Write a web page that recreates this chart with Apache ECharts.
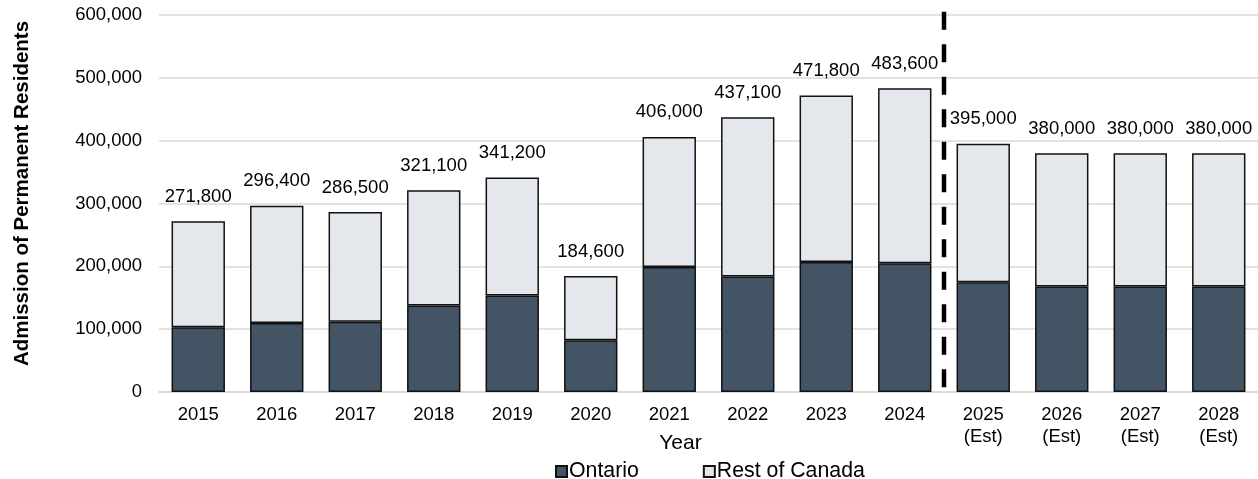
<!DOCTYPE html>
<html>
<head>
<meta charset="utf-8">
<style>
  html, body { margin: 0; padding: 0; background: #fff; }
  #chart { width: 1258px; height: 479px; }
</style>
<script src="https://cdn.jsdelivr.net/npm/echarts@6/dist/echarts.min.js"></script>
</head>
<body>
<div id="chart"></div>
<script>
// Admissions of permanent residents, Ontario vs. rest of Canada
const years = ['2015', '2016', '2017', '2018', '2019', '2020', '2021', '2022', '2023', '2024',
               '2025\n(Est)', '2026\n(Est)', '2027\n(Est)', '2028\n(Est)'];
const totals = [271800, 296400, 286500, 321100, 341200, 184600, 406000, 437100, 471800, 483600,
                395000, 380000, 380000, 380000];
const ontario = [103000, 110000, 112000, 137500, 153500, 82500, 199000, 184000, 207000, 205000,
                 174500, 168000, 168000, 168000];
const yTicks = { min: 0, max: 600000, interval: 100000 };
// Divider between actual and estimated years (category boundary, value range)
const dividerAt = 9.5;
const dividerSpan = [605000, 0];

const restOfCanada = totals.map((t, i) => t - ontario[i]);

const FONT = 'Liberation Sans, Arial, sans-serif';
const fmt = v => v.toLocaleString('en-US');

const chart = echarts.init(document.getElementById('chart'), null, { renderer: 'canvas' });
chart.setOption({
  animation: false,
  textStyle: { fontFamily: FONT, color: '#000' },
  grid: { left: 159, right: 0, top: 15, bottom: 87 },
  legend: {
    bottom: -8,
    left: 550,
    itemWidth: 11,
    itemHeight: 11,
    itemGap: 64,
    icon: 'rect',
    textStyle: { fontFamily: FONT, fontSize: 21.3, color: '#000', padding: [0, 0, 0, -3] },
    data: ['Ontario', 'Rest of Canada']
  },
  xAxis: [
    {
      type: 'category',
      data: years,
      name: 'Year',
      nameLocation: 'middle',
      nameGap: 41,
      nameMoveOverlap: false,
      nameTextStyle: { fontFamily: FONT, fontSize: 21, color: '#000', padding: [0, 56, 0, 0] },
      axisLine: { lineStyle: { color: '#d9d9d9', width: 1.5 } },
      axisTick: { show: false },
      axisLabel: { fontFamily: FONT, fontSize: 18.5, color: '#000', margin: 12, lineHeight: 22 }
    },
    {
      type: 'value',
      min: -0.5,
      max: years.length - 0.5,
      show: false
    }
  ],
  yAxis: {
    type: 'value',
    min: yTicks.min,
    max: yTicks.max,
    interval: yTicks.interval,
    name: 'Admission of Permanent Residents',
    nameLocation: 'middle',
    nameGap: 126,
    nameTextStyle: { fontFamily: FONT, fontSize: 20.5, fontWeight: 'bold', color: '#000', padding: [0, 0, 0, 20] },
    axisLine: { show: false },
    axisTick: { show: false },
    axisLabel: { fontFamily: FONT, fontSize: 18.5, color: '#000', margin: 17, formatter: v => fmt(v) },
    splitLine: { lineStyle: { color: '#d9d9d9', width: 1.5 } }
  },
  series: [
    {
      name: 'Ontario',
      type: 'bar',
      stack: 'total',
      barCategoryGap: '32%',
      data: ontario,
      itemStyle: { color: '#435464', borderColor: '#111', borderWidth: 1.5 }
    },
    {
      name: 'Rest of Canada',
      type: 'bar',
      stack: 'total',
      barCategoryGap: '32%',
      data: restOfCanada,
      itemStyle: { color: '#e4e8ec', borderColor: '#111', borderWidth: 1.5 },
      label: {
        show: true,
        position: 'top',
        distance: 15,
        fontFamily: FONT,
        fontSize: 18.5,
        color: '#000',
        formatter: p => fmt(totals[p.dataIndex])
      }
    },
    {
      type: 'line',
      xAxisIndex: 1,
      yAxisIndex: 0,
      clip: false,
      symbol: 'none',
      silent: true,
      data: dividerSpan.map(v => [dividerAt, v]),
      lineStyle: { color: '#000', width: 4.5, type: [18, 14.5] },
      z: 5
    }
  ]
});
</script>
</body>
</html>
